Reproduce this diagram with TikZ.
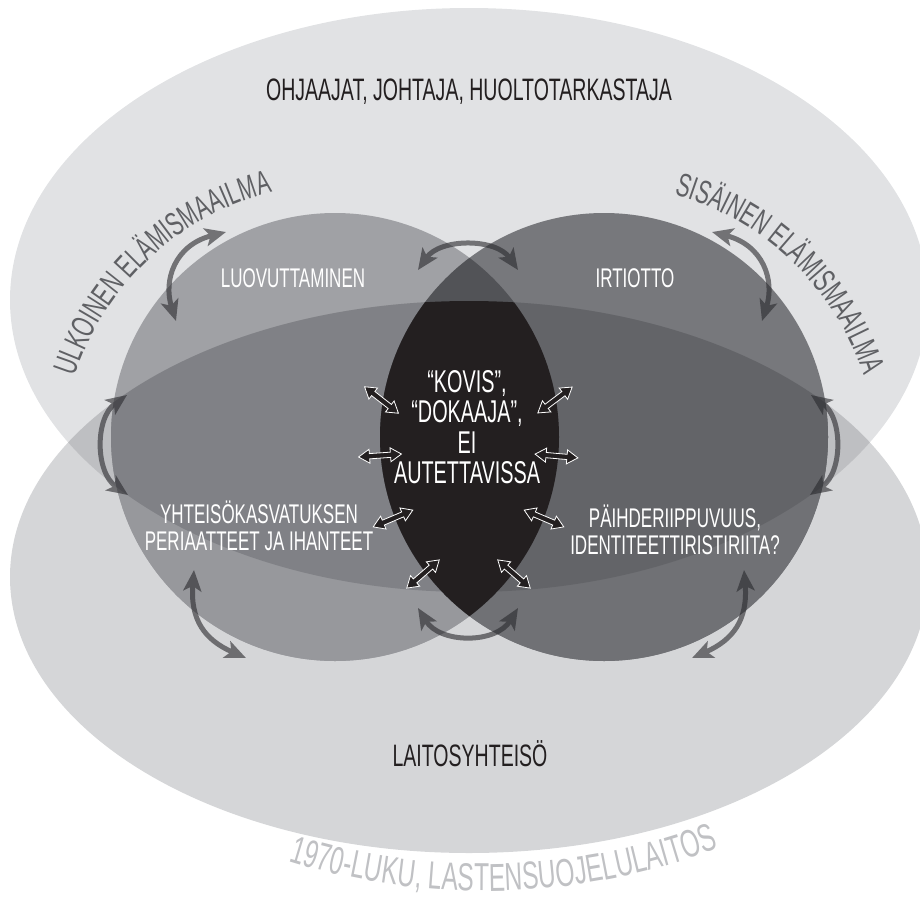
\documentclass[tikz,border=0pt]{standalone}
\usepackage{fontspec}
\setmainfont{Liberation Sans}[FakeStretch=0.63]
\usetikzlibrary{arrows.meta}
\usetikzlibrary{shapes.arrows}
\usetikzlibrary{decorations.text}
\definecolor{topell}{HTML}{E1E2E4}
\definecolor{botell}{HTML}{D5D6D8}
\definecolor{bothell}{HTML}{BEBFC2}
\definecolor{lefttop}{HTML}{A0A1A5}
\definecolor{leftband}{HTML}{808186}
\definecolor{leftbot}{HTML}{97989C}
\definecolor{righttop}{HTML}{77787C}
\definecolor{rightband}{HTML}{636468}
\definecolor{rightbot}{HTML}{707175}
\definecolor{lenstop}{HTML}{525357}
\definecolor{inkblack}{HTML}{231F20}
\definecolor{arcgray}{HTML}{5F6064}
\definecolor{eragray}{HTML}{C0C1C4}
\definecolor{swinggray}{HTML}{28282C}

\begin{document}
\begin{tikzpicture}[x=1pt,y=1pt,
  every node/.style={inner sep=0pt},
  bigword/.style={font=\fontsize{31}{36}\selectfont,text=inkblack},
  whiteword/.style={font=\fontsize{27}{26.5}\selectfont,text=white,align=center},
  swing/.style={line width=5pt,draw=swinggray,
    {Stealth[length=21pt,width=18pt,inset=5pt]}-{Stealth[length=21pt,width=18pt,inset=5pt]}},
  twoway/.style={double arrow,draw=white,line width=0.8pt,fill=inkblack,
    minimum height=43pt,minimum width=14pt,inner sep=2pt,
    double arrow head extend=4pt,double arrow tip angle=65}]
  \useasboundingbox (0,0) rectangle (920,-899);
  % the two outer worlds
  \fill[topell] (469,-300) ellipse [x radius=459, y radius=292];
  \fill[botell] (469,-577) ellipse [x radius=459, y radius=276];
  \begin{scope}
    \clip (469,-300) ellipse [x radius=459, y radius=292];
    \fill[bothell] (469,-577) ellipse [x radius=459, y radius=276];
  \end{scope}
  % the two circles
  \fill[lefttop] (335,-437) circle [radius=224];
  \begin{scope}
    \clip (469,-577) ellipse [x radius=459, y radius=276];
    \fill[leftbot] (335,-437) circle [radius=224];
    \clip (469,-300) ellipse [x radius=459, y radius=292];
    \fill[leftband] (335,-437) circle [radius=224];
  \end{scope}
  \fill[righttop] (604,-437) circle [radius=224];
  \begin{scope}
    \clip (469,-577) ellipse [x radius=459, y radius=276];
    \fill[rightbot] (604,-437) circle [radius=224];
    \clip (469,-300) ellipse [x radius=459, y radius=292];
    \fill[rightband] (604,-437) circle [radius=224];
  \end{scope}
  % the lens
  \begin{scope}
    \clip (335,-437) circle [radius=224];
    \fill[lenstop] (604,-437) circle [radius=224];
    \clip (469,-577) ellipse [x radius=459, y radius=276];
    \fill[inkblack] (604,-437) circle [radius=224];
  \end{scope}
  % the curved titles
  \path[decorate,decoration={text along path,text align=center,text color=arcgray,
    text={|\fontsize{33}{33}\selectfont|ULKOINEN ELÄMISMAAILMA}}]
    (340,-463) ++(176:279) arc [start angle=176, end angle=90, radius=279];
  \path[decorate,decoration={text along path,text align=center,text color=arcgray,
    text={|\fontsize{33}{33}\selectfont|SISÄINEN ELÄMISMAAILMA}}]
    (599,-463) ++(89:279) arc [start angle=89, end angle=3.6, radius=279];
  \path[decorate,decoration={text along path,text align=center,text color=eragray,
    text={|\fontsize{39}{39}\selectfont|1970-LUKU, LASTENSUOJELULAITOS}}]
    (485,-230) ++(-118.3:661) arc [start angle=-118.3, end angle=-58.3, radius=661];
  % the labels
  \node[bigword,anchor=base] (staff) at (469,-100) {OHJAAJAT, JOHTAJA, HUOLTOTARKASTAJA};
  \node[bigword,anchor=base] (community) at (470,-766) {LAITOSYHTEISÖ};
  \node[whiteword,anchor=base] (release) at (293,-287) {LUOVUTTAMINEN};
  \node[whiteword,anchor=base] (breakaway) at (635,-287) {IRTIOTTO};
  \node[whiteword] (ideals) at (259,-526) {YHTEISÖKASVATUKSEN\\PERIAATTEET JA IHANTEET};
  \node[whiteword] (conflict) at (675,-530) {PÄIHDERIIPPUVUUS,\\IDENTITEETTIRISTIRIITA?};
  \node[whiteword,font=\fontsize{31.5}{30.5}\selectfont] (tough) at (467,-427)
    {“KOVIS”,\\“DOKAAJA”,\\EI\\AUTETTAVISSA};
  % the swings between the worlds
  \coordinate (topL) at (418,-270);  \coordinate (topR) at (518,-270);
  \coordinate (botL) at (418,-608);  \coordinate (botR) at (518,-608);
  \coordinate (nwA) at (176,-321);   \coordinate (nwB) at (226,-232);
  \coordinate (neA) at (762,-321);   \coordinate (neB) at (712,-232);
  \coordinate (wA) at (127,-395);    \coordinate (wB) at (128,-495);
  \coordinate (eA) at (811,-395);    \coordinate (eB) at (810,-495);
  \coordinate (swA) at (194,-570);   \coordinate (swB) at (246,-658);
  \coordinate (seA) at (744,-570);   \coordinate (seB) at (692,-658);
  \begin{scope}[transparency group,opacity=0.6]
    \draw[swing] (topL) .. controls (440,-238) and (496,-238) .. (topR);
    \draw[swing] (botL) .. controls (440,-644) and (496,-644) .. (botR);
    \draw[swing] (nwA) .. controls (163,-280) and (175,-245) .. (nwB);
    \draw[swing] (neA) .. controls (775,-280) and (763,-245) .. (neB);
    \draw[swing] (wA) .. controls (95,-418) and (95,-472) .. (wB);
    \draw[swing] (eA) .. controls (843,-418) and (843,-472) .. (eB);
    \draw[swing] (swA) .. controls (190,-620) and (205,-640) .. (swB);
    \draw[swing] (seA) .. controls (748,-620) and (733,-640) .. (seB);
  \end{scope}
  % the small two-way arrows
  \node[twoway,rotate=-38] (tw1) at (381.5,-400) {};
  \node[twoway,rotate=37] (tw2) at (555,-400) {};
  \node[twoway,rotate=4] (tw3) at (380,-455.5) {};
  \node[twoway,rotate=-5] (tw4) at (556.5,-456) {};
  \node[twoway,rotate=23] (tw5) at (393,-518.5) {};
  \node[twoway,rotate=-23] (tw6) at (544,-518.5) {};
  \node[twoway,rotate=41] (tw7) at (423,-574) {};
  \node[twoway,rotate=-41] (tw8) at (514,-574) {};
\end{tikzpicture}
\end{document}
